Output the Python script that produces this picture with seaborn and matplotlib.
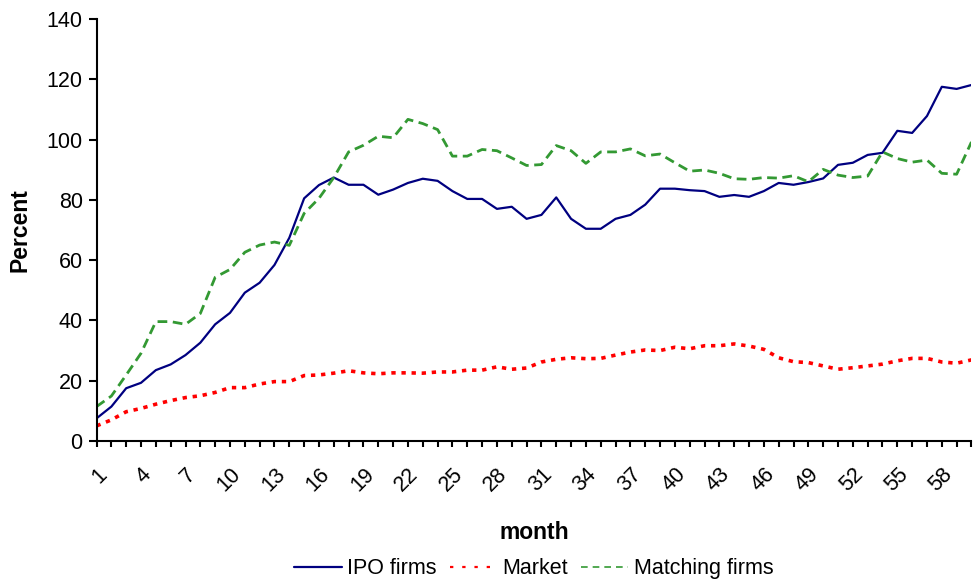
import numpy as np
import pandas as pd
import matplotlib
matplotlib.use("Agg")
import matplotlib.pyplot as plt
import seaborn as sns

sns.set_theme(style="white")
plt.rcParams["font.family"] = ["Liberation Sans", "DejaVu Sans"]
plt.rcParams.update({
    "text.color": "black",
    "axes.labelcolor": "black",
    "xtick.color": "black",
    "ytick.color": "black",
    "axes.edgecolor": "black",
})

months = list(range(1, 61))

ipo_firms = [
    7.5, 11.4, 17.5, 19.3, 23.5, 25.4, 28.5, 32.6, 38.7, 42.5,
    49.2, 52.5, 58.4, 67.4, 80.5, 84.9, 87.4, 85.0, 85.0, 81.7,
    83.4, 85.6, 87.0, 86.3, 82.9, 80.3, 80.3, 77.0, 77.7, 73.7,
    75.0, 80.8, 73.7, 70.4, 70.4, 73.7, 75.0, 78.4, 83.7, 83.7,
    83.2, 82.9, 81.0, 81.6, 81.0, 82.9, 85.6, 85.0, 85.9, 87.1,
    91.6, 92.3, 94.9, 95.6, 102.9, 102.2, 107.8, 117.5, 116.8, 118.1,
]

market = [
    5.0, 7.0, 9.7, 10.8, 12.2, 13.4, 14.4, 15.0, 16.1, 17.7,
    17.7, 18.9, 19.7, 19.7, 21.7, 21.9, 22.5, 23.3, 22.6, 22.3,
    22.6, 22.6, 22.5, 22.9, 22.9, 23.5, 23.5, 24.6, 23.8, 24.2,
    26.2, 27.1, 27.6, 27.3, 27.4, 28.5, 29.5, 30.2, 30.0, 31.1,
    30.6, 31.6, 31.6, 32.2, 31.5, 30.4, 27.6, 26.3, 26.0, 24.9,
    23.8, 24.3, 24.9, 25.5, 26.6, 27.4, 27.4, 26.2, 25.8, 26.9,
]

matching_firms = [
    11.4, 14.9, 21.9, 29.1, 39.6, 39.6, 38.7, 42.3, 54.3, 56.9,
    62.6, 65.0, 66.0, 64.9, 75.5, 80.5, 87.4, 95.9, 98.1, 101.1,
    100.6, 106.7, 105.3, 103.3, 94.5, 94.5, 96.7, 96.3, 93.9, 91.4,
    91.7, 98.0, 96.3, 92.1, 95.9, 95.9, 96.9, 94.6, 95.2, 92.3,
    89.5, 89.9, 88.8, 87.0, 86.8, 87.4, 87.2, 88.0, 86.0, 90.1,
    88.2, 87.4, 87.9, 95.9, 93.7, 92.5, 93.2, 88.8, 88.5, 99.2,
]

series_names = ["IPO firms", "Market", "Matching firms"]
colors = {"IPO firms": "#000080", "Market": "#FF0000", "Matching firms": "#339933"}

df = pd.DataFrame({
    "month": months * 3,
    "Percent": ipo_firms + market + matching_firms,
    "series": sum([[n] * len(months) for n in series_names], []),
})

fig = plt.figure(figsize=(9.74, 5.84), dpi=100)
ax = fig.add_axes([0.0991, 0.2449, 0.8983, 0.7226])

sns.lineplot(data=df, x="month", y="Percent", hue="series",
             hue_order=series_names, palette=colors, ax=ax, legend=False)

styles = {
    "IPO firms": dict(lw=1.6, ls="-"),
    "Market": dict(lw=2.6, ls=(0, (1.2, 1.6))),
    "Matching firms": dict(lw=2.0, ls=(0, (3.5, 2.0))),
}
for line, name in zip(ax.get_lines(), series_names):
    line.set_linewidth(styles[name]["lw"])
    line.set_linestyle(styles[name]["ls"])

ax.set_xlim(1, 60)
ax.set_ylim(0, 140)
ax.set_yticks(range(0, 141, 20))
ax.set_xticks(months)
ax.set_xticklabels([str(m) if (m - 1) % 3 == 0 else "" for m in months],
                   rotation=45, ha="right", rotation_mode="anchor")

for side in ("top", "right"):
    ax.spines[side].set_visible(False)
for side in ("left", "bottom"):
    ax.spines[side].set_linewidth(1.5)
    ax.spines[side].set_color("black")

ax.tick_params(axis="y", which="major", direction="out", length=6, width=1.5,
               labelsize=15.5, pad=4, left=True, colors="black")
ax.tick_params(axis="x", which="major", direction="out", length=4.5, width=1.5,
               labelsize=15.5, pad=12, bottom=True, colors="black")

ax.set_xlabel("month", fontsize=16.5, fontweight="bold", labelpad=18, color="black")
ax.set_ylabel("Percent", fontsize=16.5, fontweight="bold", labelpad=11, color="black")

legend_handles = [
    plt.Line2D([], [], color=colors["IPO firms"], lw=1.6, ls="-"),
    plt.Line2D([], [], color=colors["Market"], lw=1.6, ls=(0, (1.5, 4))),
    plt.Line2D([], [], color=colors["Matching firms"], lw=1.2, ls=(0, (4, 3))),
]
leg = fig.legend(legend_handles, series_names, loc="center", bbox_to_anchor=(0.548, 0.026),
                 ncol=3, frameon=False, fontsize=15.5, handlelength=2.2,
                 handletextpad=0.25, columnspacing=0.6)
for t in leg.get_texts():
    t.set_color("black")

fig.savefig("out.png", dpi=100, facecolor="white")
